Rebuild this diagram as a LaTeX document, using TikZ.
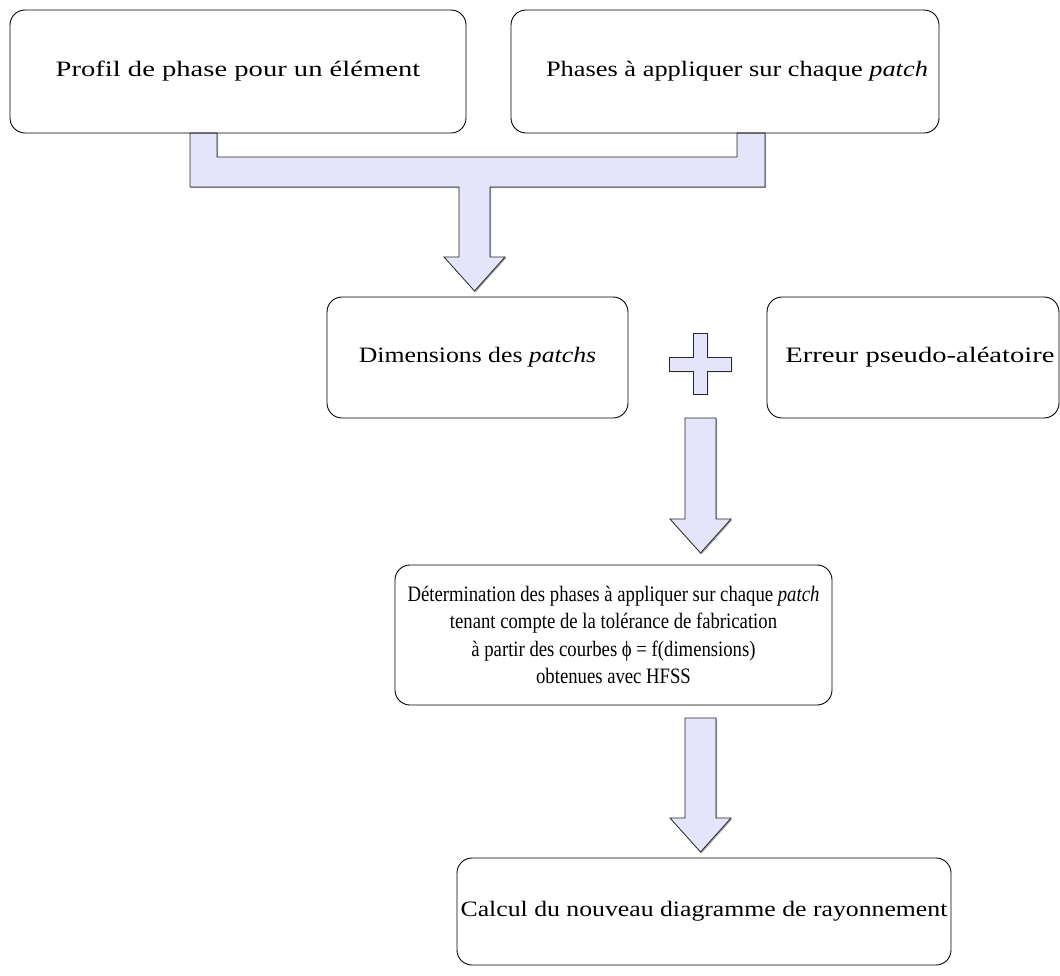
\documentclass[tikz,border=0pt]{standalone}
\usepackage{fontspec}
\setmainfont{Liberation Serif}
\newfontfamily\serifA[FakeStretch=1.3]{Liberation Serif}
\newfontfamily\serifB[FakeStretch=1.2]{Liberation Serif}
\newfontfamily\serifC[FakeStretch=1.17]{Liberation Serif}
\newfontfamily\serifD[FakeStretch=0.85]{Liberation Serif}
\usetikzlibrary{shadows}
\definecolor{lavande}{RGB}{228,228,250}
\begin{document}
\begin{tikzpicture}[
 x=1pt,y=-1pt,
 texte/.style={font=#1\fontsize{22}{27.5}\selectfont},
 etape/.style={draw,rounded corners=15pt,line width=0.9pt,align=center,inner sep=0pt},
 bloc/.style={draw=black!85,fill=lavande,line width=0.8pt,
  drop shadow={shadow xshift=1.2pt,shadow yshift=-1.2pt,fill=black!35,opacity=1}}
]
 \useasboundingbox (0,0) rectangle (1060,975);

 % fat arrows first, the boxes are drawn over their ends
 \path[bloc] (190,133) -- (190,187) -- (459,187) -- (459,257) -- (444,257)
  -- (474.5,291) -- (505,257) -- (490,257) -- (490,187) -- (765,187)
  -- (765,133) -- (737,133) -- (737,157) -- (217,157) -- (217,133) -- cycle;
 \path[bloc] (693,333) -- (707,333) -- (707,357) -- (731,357) -- (731,371)
  -- (707,371) -- (707,394) -- (693,394) -- (693,371) -- (669,371)
  -- (669,357) -- (693,357) -- cycle;
 \foreach \ya/\yb/\yc in {418/519/553,718/818/852}
  \path[bloc] (685,\ya) -- (716,\ya) -- (716,\yb) -- (731,\yb)
   -- (700.5,\yc) -- (670,\yb) -- (685,\yb) -- cycle;

 \node[etape,texte=\serifA,minimum width=456pt,minimum height=123pt] (profil)
  at (238,71.5) {Profil de phase pour un élément};
 \node[etape,texte=\serifB,minimum width=428pt,minimum height=123pt] (phases)
  at (725,71.5) {\hspace{24pt}Phases à appliquer sur chaque \emph{patch}};
 \node[etape,texte=\serifC,minimum width=301pt,minimum height=121pt] (dims)
  at (477.5,357.5) {Dimensions des \emph{patchs}};
 \node[etape,texte=\serifA,minimum width=292pt,minimum height=121pt] (erreur)
  at (913,357.5) {\hspace{14pt}Erreur pseudo-aléatoire};
 \node[etape,texte=\serifD,minimum width=437pt,minimum height=140pt] (determ)
  at (613.5,635) {Détermination des phases à appliquer sur chaque \emph{patch}\\
   tenant compte de la tolérance de fabrication\\
   à partir des courbes ϕ = f(dimensions)\\
   obtenues avec HFSS};
 \node[etape,texte=\serifC,minimum width=494pt,minimum height=107pt] (calcul)
  at (704,911.5) {Calcul du nouveau diagramme de rayonnement};
\end{tikzpicture}
\end{document}
